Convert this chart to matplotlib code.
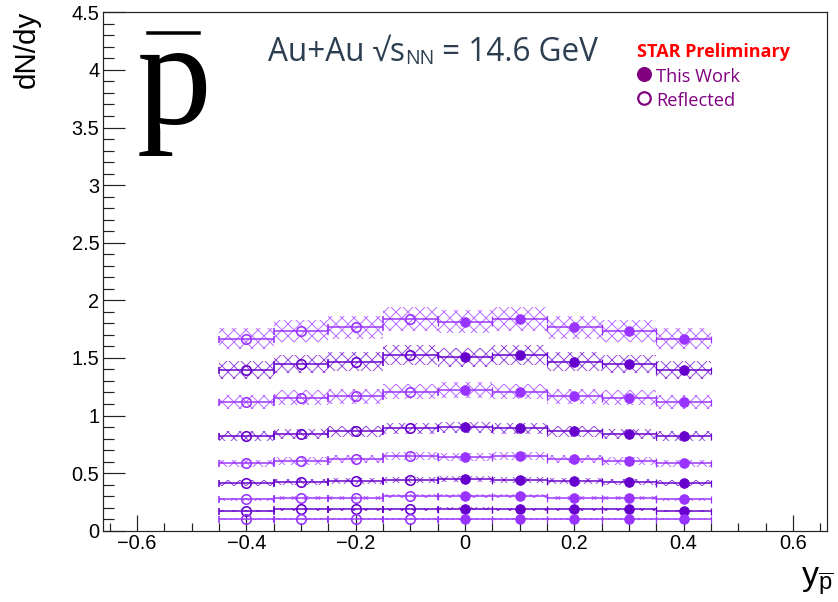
import numpy as np
import matplotlib.pyplot as plt
from matplotlib.lines import Line2D
from matplotlib.ticker import MultipleLocator, FuncFormatter
from matplotlib.colors import to_rgba

plt.rcParams['font.family'] = ['Liberation Sans', 'DejaVu Sans']
plt.rcParams['mathtext.fontset'] = 'custom'
plt.rcParams['mathtext.rm'] = 'Liberation Sans'
plt.rcParams['mathtext.it'] = 'Liberation Sans:italic'
plt.rcParams['hatch.linewidth'] = 1.0

# rapidity bin centres measured ("This Work"); negative side is the reflection
rapidity = [0.0, 0.1, 0.2, 0.3, 0.4]
bin_half = 0.05

# dN/dy per centrality class (top = most central)
dndy = [
    [1.814, 1.835, 1.766, 1.733, 1.667],
    [1.505, 1.525, 1.467, 1.444, 1.392],
    [1.219, 1.207, 1.169, 1.155, 1.115],
    [0.898, 0.889, 0.865, 0.839, 0.822],
    [0.637, 0.648, 0.625, 0.605, 0.585],
    [0.451, 0.443, 0.431, 0.425, 0.414],
    [0.304, 0.304, 0.286, 0.284, 0.273],
    [0.191, 0.186, 0.186, 0.186, 0.174],
    [0.102, 0.102, 0.102, 0.102, 0.099],
]
sys_err = [
    [0.100, 0.105, 0.098, 0.095, 0.094],
    [0.082, 0.083, 0.080, 0.079, 0.078],
    [0.068, 0.067, 0.065, 0.064, 0.062],
    [0.049, 0.049, 0.048, 0.046, 0.045],
    [0.035, 0.036, 0.034, 0.033, 0.032],
    [0.025, 0.025, 0.024, 0.024, 0.023],
    [0.017, 0.017, 0.016, 0.016, 0.015],
    [0.011, 0.011, 0.011, 0.011, 0.010],
    [0.006, 0.006, 0.006, 0.006, 0.006],
]
light = '#9933ff'
dark = '#6600cc'
colors = [light, dark, light, dark, light, dark, light, dark, light]

W, H = 838, 602
fig = plt.figure(figsize=(W / 72, H / 72), dpi=72)
ax = fig.add_axes([103.3 / W, 71.3 / H, 723.4 / W, 518.4 / H])

x_pos = np.array(rapidity)
for vals, errs, col in zip(dndy, sys_err, colors):
    vals = np.array(vals)
    errs = np.array(errs)
    # reflected points (skip y=0)
    x_ref = -x_pos[1:]
    v_ref = vals[1:]
    e_ref = errs[1:]
    hcol = to_rgba(col, 0.7)
    for xx, vv, ee in zip(np.concatenate([x_pos, x_ref]),
                          np.concatenate([vals, v_ref]),
                          np.concatenate([errs, e_ref])):
        ax.bar(xx, 2 * ee, bottom=vv - ee, width=2 * bin_half, fill=False,
               hatch='xx', edgecolor=hcol, linewidth=0, zorder=2)
    ax.errorbar(x_pos, vals, xerr=bin_half, fmt='o', color=col, ms=9.5,
                elinewidth=1.5, capsize=3.5, capthick=1.2, zorder=4)
    ax.errorbar(x_ref, v_ref, xerr=bin_half, fmt='o', color=col, ms=9.5,
                mfc='none', mew=1.6, elinewidth=1.5, capsize=3.5, capthick=1.2,
                zorder=4)

ax.set_xlim(-0.662, 0.662)
ax.set_ylim(0, 4.5)
ax.xaxis.set_major_locator(MultipleLocator(0.2))
ax.xaxis.set_minor_locator(MultipleLocator(0.05))
ax.yaxis.set_major_locator(MultipleLocator(0.5))
ax.yaxis.set_minor_locator(MultipleLocator(0.1))


def fmt(v, _):
    v = round(v, 3) + 0.0
    return f'{v:g}'.replace('-', '\u2212')


ax.xaxis.set_major_formatter(FuncFormatter(fmt))
ax.yaxis.set_major_formatter(FuncFormatter(fmt))
ax.tick_params(which='both', direction='in', top=False, right=False,
               labelsize=20, width=1.2, color='#222222')
ax.tick_params(axis='x', which='major', length=16, pad=3)
ax.tick_params(axis='x', which='minor', length=8)
ax.tick_params(axis='y', which='major', length=22, pad=4)
ax.tick_params(axis='y', which='minor', length=11)
for s in ax.spines.values():
    s.set_linewidth(1.2)
    s.set_color('#222222')

# axis titles
fig.text(27 / W, 1 - 11 / H, 'dN/dy', rotation=90, ha='center', va='top',
         fontsize=29.5)
fig.text(834 / W, 1 - 585 / H, r'$\mathregular{y_{\overline{p}}}$',
         ha='right', va='baseline', fontsize=34)

# big pbar
fig.text(137 / W, 1 - 124 / H, 'p', fontsize=150, family='Liberation Serif',
         ha='left', va='baseline')
fig.add_artist(Line2D([148 / W, 199 / W], [1 - 32.7 / H, 1 - 32.7 / H],
                      color='black', lw=3.5))

# collision system
sans = ['Open Sans', 'DejaVu Sans']
tcol = '#2c3e50'
t1 = ax.annotate('Au+Au \u221as', xy=(268, H - 60.7), xycoords='figure pixels',
                 fontsize=31.5, family=sans, color=tcol, va='baseline',
                 annotation_clip=False)
t2 = ax.annotate('NN', xy=(1, 0), xycoords=t1, fontsize=19.5, family=sans,
                 color=tcol, va='bottom', annotation_clip=False)
ax.annotate(' = 14.6 GeV', xy=(1, 0), xycoords=(t2, t1), fontsize=31.5,
            family=sans, color=tcol, va='bottom', annotation_clip=False)

# legend
ax.annotate('STAR Preliminary', xy=(637, H - 57), xycoords='figure pixels',
            fontsize=18, family=sans, weight='bold', color='red',
            va='baseline', annotation_clip=False)
ax.annotate('This Work', xy=(656, H - 81.7), xycoords='figure pixels',
            fontsize=18.3, family=sans, color='#800080', va='baseline',
            annotation_clip=False)
ax.annotate('Reflected', xy=(656, H - 106), xycoords='figure pixels',
            fontsize=18.3, family=sans, color='#800080', va='baseline',
            annotation_clip=False)
fig.add_artist(Line2D([644 / W], [1 - 73.7 / H], marker='o', ms=14,
                      color='#800080', ls='none'))
fig.add_artist(Line2D([644 / W], [1 - 98.3 / H], marker='o', ms=12.5,
                      mfc='none', mec='#800080', mew=2.2, ls='none'))

fig.savefig('out.png', dpi=72)
